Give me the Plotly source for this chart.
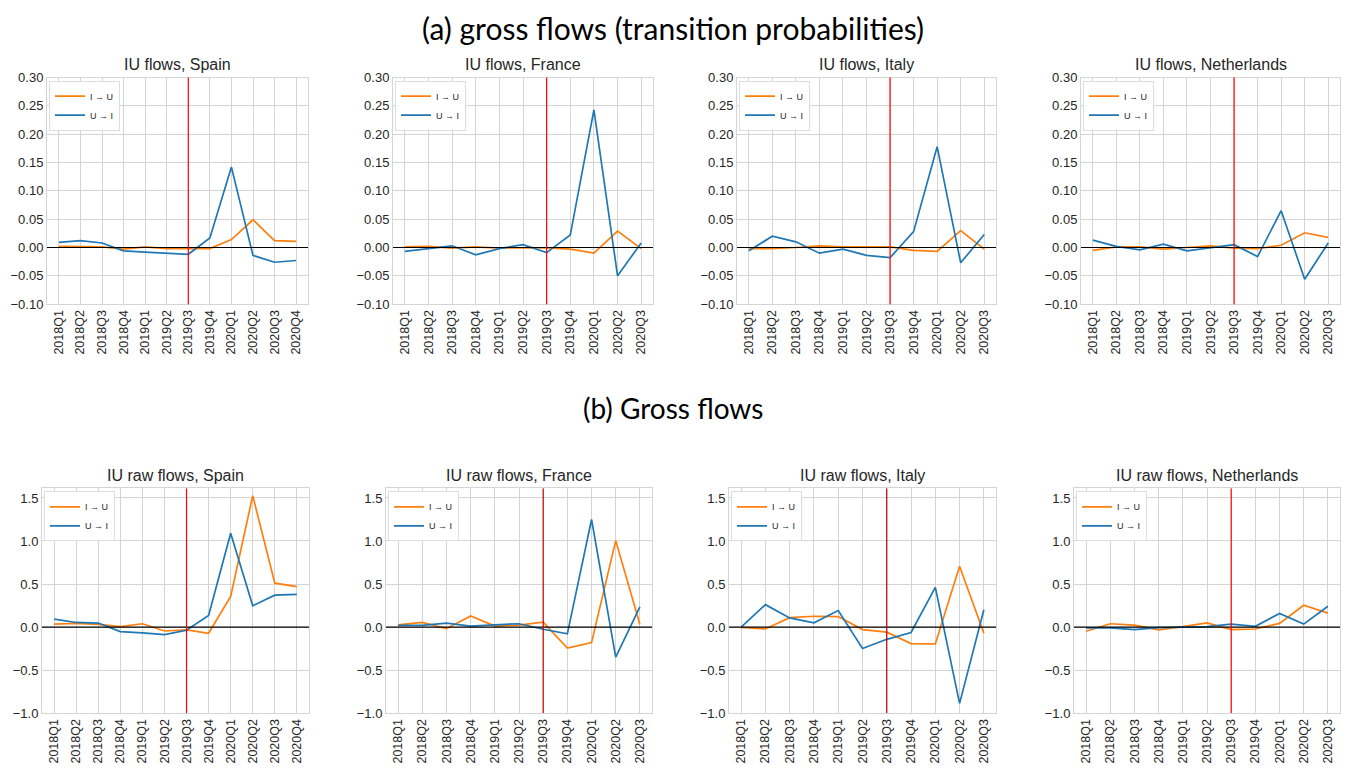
import plotly.graph_objects as go

quarters_es = ["2018Q1", "2018Q2", "2018Q3", "2018Q4", "2019Q1", "2019Q2",
               "2019Q3", "2019Q4", "2020Q1", "2020Q2", "2020Q3", "2020Q4"]
quarters = quarters_es[:11]
countries = ["Spain", "France", "Italy", "Netherlands"]
break_quarter = "2019Q3"

# (a) transition probabilities
prob_iu_spain = [0.002, 0.002, 0.001, -0.003, 0.001, -0.002, -0.002, -0.002, 0.014, 0.049, 0.012, 0.011]
prob_ui_spain = [0.009, 0.012, 0.008, -0.006, -0.008, -0.010, -0.012, 0.017, 0.142, -0.014, -0.026, -0.023]
prob_iu_france = [0.001, 0.002, -0.001, 0.001, -0.001, -0.001, -0.0005, -0.003, -0.010, 0.029, -0.002]
prob_ui_france = [-0.007, -0.002, 0.003, -0.013, -0.002, 0.005, -0.009, 0.022, 0.243, -0.050, 0.008]
prob_iu_italy = [-0.002, -0.002, 0.000, 0.003, 0.001, 0.001, 0.001, -0.005, -0.007, 0.030, -0.003]
prob_ui_italy = [-0.006, 0.020, 0.010, -0.010, -0.003, -0.014, -0.018, 0.028, 0.178, -0.027, 0.023]
prob_iu_nl = [-0.005, 0.001, 0.001, -0.003, 0.000, 0.003, -0.001, -0.002, 0.004, 0.026, 0.018]
prob_ui_nl = [0.013, 0.002, -0.004, 0.006, -0.006, -0.001, 0.005, -0.016, 0.065, -0.056, 0.008]

# (b) raw gross flows
raw_iu_spain = [0.034, 0.042, 0.031, 0.004, 0.038, -0.046, -0.034, -0.073, 0.355, 1.527, 0.51, 0.47]
raw_ui_spain = [0.092, 0.053, 0.046, -0.053, -0.069, -0.088, -0.038, 0.134, 1.09, 0.248, 0.37, 0.38]
raw_iu_france = [0.026, 0.053, -0.019, 0.128, 0.011, 0.023, 0.057, -0.245, -0.181, 1.004, 0.03]
raw_ui_france = [0.019, 0.019, 0.045, 0.011, 0.026, 0.038, -0.026, -0.079, 1.25, -0.351, 0.234]
raw_iu_italy = [-0.004, -0.023, 0.109, 0.125, 0.121, -0.03, -0.06, -0.192, -0.196, 0.706, -0.072]
raw_ui_italy = [0.0, 0.26, 0.106, 0.049, 0.192, -0.249, -0.143, -0.064, 0.46, -0.887, 0.2]
raw_iu_nl = [-0.049, 0.038, 0.023, -0.034, 0.004, 0.049, -0.03, -0.023, 0.042, 0.253, 0.162]
raw_ui_nl = [-0.011, -0.011, -0.03, -0.008, 0.0, 0.004, 0.034, 0.008, 0.158, 0.034, 0.242]

top_iu = [prob_iu_spain, prob_iu_france, prob_iu_italy, prob_iu_nl]
top_ui = [prob_ui_spain, prob_ui_france, prob_ui_italy, prob_ui_nl]
bot_iu = [raw_iu_spain, raw_iu_france, raw_iu_italy, raw_iu_nl]
bot_ui = [raw_ui_spain, raw_ui_france, raw_ui_italy, raw_ui_nl]

top_ticks = [-0.10, -0.05, 0.00, 0.05, 0.10, 0.15, 0.20, 0.25, 0.30]
bot_ticks = [-1.0, -0.5, 0.0, 0.5, 1.0, 1.5]

W, H = 1346, 775
ORANGE = "#ff7f0e"
BLUE = "#1f77b4"
GRID = "#d5d5d5"
TXT = "#262626"
FONT = "Liberation Sans"

top_x_px = [(47, 308), (393, 653), (737, 996), (1081, 1340)]
bot_x_px = [(42, 309), (386, 652), (729, 996), (1074, 1340)]
top_y_px = (72, 303)
bot_y_px = (491, 720)
bot_red = ["#ff0000", "#c80000", "#b80000", "#ff0000"]

fig = go.Figure()
layout = dict(width=W, height=H, margin=dict(l=0, r=0, t=0, b=0),
              plot_bgcolor="white", paper_bgcolor="white", showlegend=True)
shapes = []
annotations = []

def ydom(p):
    return [1 - p[1] / H, 1 - p[0] / H]

panel = 0
for row in range(2):
    for ci, country in enumerate(countries):
        panel += 1
        xs = quarters_es if country == "Spain" else quarters
        n = len(xs)
        if row == 0:
            iu, ui = top_iu[ci], top_ui[ci]
            xpx, ypx = top_x_px[ci], top_y_px
            yrange = [-0.10, 0.30]
            ticks = top_ticks
            ticktext = [f"{t:.2f}".replace("-", "\u2212") for t in ticks]
            title = f"IU flows, {country}"
            red = "#ff0000"
        else:
            iu, ui = bot_iu[ci], bot_ui[ci]
            xpx, ypx = bot_x_px[ci], bot_y_px
            yrange = [-1.0, 1.61]
            ticks = bot_ticks
            ticktext = [f"{t:.1f}".replace("-", "\u2212") for t in ticks]
            title = f"IU raw flows, {country}"
            red = bot_red[ci]
        suffix = "" if panel == 1 else str(panel)
        xa, ya = "x" + suffix, "y" + suffix
        lg = "legend" + suffix
        pad = 0.55 if n == 12 else 0.5
        layout["xaxis" + suffix] = dict(
            domain=[xpx[0] / W, xpx[1] / W], anchor=ya, type="category",
            range=[-pad, n - 1 + pad], tickangle=-90,
            tickfont=dict(family=FONT, size=12.5, color=TXT),
            showgrid=True, gridcolor=GRID, gridwidth=1,
            showline=True, linecolor=GRID, linewidth=1, mirror=True,
            zeroline=False, ticks="", ticklen=0)
        layout["yaxis" + suffix] = dict(
            domain=ydom(ypx), anchor=xa, range=yrange,
            tickvals=ticks, ticktext=ticktext,
            tickfont=dict(family=FONT, size=13, color=TXT),
            showgrid=True, gridcolor=GRID, gridwidth=1,
            showline=True, linecolor=GRID, linewidth=1, mirror=True,
            zeroline=False, ticks="")
        layout[lg] = dict(
            x=(xpx[0] + 2) / W, y=1 - (ypx[0] + 3) / H,
            xanchor="left", yanchor="top",
            bgcolor="white", bordercolor="#dddddd", borderwidth=1,
            font=dict(family=FONT, size=9, color=TXT),
            tracegroupgap=0, itemwidth=30)
        fig.add_trace(go.Scatter(x=xs, y=iu, mode="lines", name="I \u2192 U",
                                 line=dict(color=ORANGE, width=1.7),
                                 xaxis=xa, yaxis=ya, legend=lg))
        fig.add_trace(go.Scatter(x=xs, y=ui, mode="lines", name="U \u2192 I",
                                 line=dict(color=BLUE, width=1.7),
                                 xaxis=xa, yaxis=ya, legend=lg))
        # zero line
        shapes.append(dict(type="line", xref=xa + " domain", yref=ya,
                           x0=0, x1=1, y0=0, y1=0,
                           line=dict(color="black", width=1.2)))
        # break line
        bi = xs.index(break_quarter)
        shapes.append(dict(type="line", xref=xa, yref=ya + " domain",
                           x0=bi, x1=bi, y0=0, y1=1,
                           line=dict(color=red, width=1.2)))
        annotations.append(dict(text=title, xref="paper", yref="paper",
                                x=(xpx[0] + xpx[1]) / 2 / W,
                                y=1 - (ypx[0] - 3) / H,
                                xanchor="center", yanchor="bottom",
                                showarrow=False,
                                font=dict(family=FONT, size=16, color=TXT)))

annotations.append(dict(text="(a) gross flows (transition probabilities)",
                        xref="paper", yref="paper", x=0.5, y=1 - 21 / H,
                        xanchor="center", yanchor="middle", showarrow=False,
                        font=dict(family="Lato", size=30, color="black")))
annotations.append(dict(text="(b) Gross flows",
                        xref="paper", yref="paper", x=0.5, y=1 - 409 / H,
                        xanchor="center", yanchor="middle", showarrow=False,
                        font=dict(family="Lato", size=28, color="black")))

layout["shapes"] = shapes
layout["annotations"] = annotations
fig.update_layout(**layout)
fig.write_html("out.html")
